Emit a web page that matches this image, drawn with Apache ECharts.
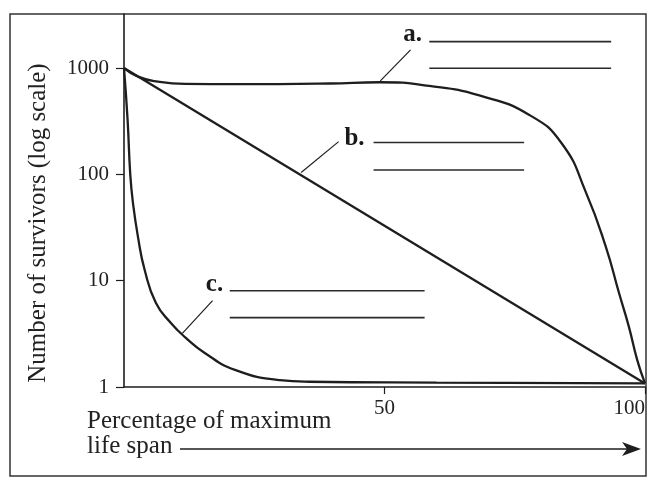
<!DOCTYPE html>
<html>
<head>
<meta charset="utf-8">
<script src="https://cdn.jsdelivr.net/npm/echarts@6/dist/echarts.min.js"></script>
<style>
  html, body { margin: 0; padding: 0; background: #fff; }
  #chart { width: 648px; height: 477px; }
</style>
</head>
<body>
<div id="chart"></div>
<script>
// Survivorship curves: percentage of maximum life span vs. number of survivors (log scale)

// Curve a: high survival until late in life
const spanA = [0, 2.7, 6.5, 11.7, 21.8, 39.5, 49, 58.6, 68.2, 77.8, 84.1, 88.7, 92.5, 95, 96.9, 98.5, 100];
const survA = [1000, 830, 745, 708, 704, 715, 735, 679, 552, 362, 193, 67, 20.7, 7.7, 3.7, 1.8, 1.08];

// Curve b: constant death rate (straight line on a log scale)
const spanB = [0, 100];
const survB = [1000, 1.08];

// Curve c: heavy early mortality
const spanC = [0, 0.69, 1.2, 1.72, 2.68, 3.97, 6.13, 9, 11.7, 15.5, 21.3, 29.9, 35.6, 60, 100];
const survC = [1000, 325, 100, 53.8, 25.8, 12.6, 6.17, 4.0, 2.95, 2.09, 1.45, 1.16, 1.12, 1.1, 1.08];

// Axis tick values
const yTicks = [1, 10, 100, 1000];
const xTicks = [50, 100];

// Callout tags and where their pointers / answer rules sit (data coordinates)
const calloutTags = ['a.', 'b.', 'c.'];
const pointerFrom = [[49.2, 756], [34.0, 104], [11.2, 3.2]];
const pointerTo   = [[55.0, 1480], [41.2, 203], [17.0, 6.5]];
const tagAt       = [[53.6, 1720], [42.3, 181], [15.7, 7.66]];
const ruleSpan    = [[58.6, 93.5], [47.9, 76.8], [20.3, 57.7]];
const ruleLevels  = [[1770, 996], [199, 110], [8.05, 4.49]];

const SERIF = '"Liberation Serif", "Times New Roman", serif';
const INK = '#1e1e1e';

const zip = (xs, ys) => xs.map((x, i) => [x, ys[i]]);

const chart = echarts.init(document.getElementById('chart'), null, { renderer: 'canvas' });

const curveStyle = { color: INK, width: 2.3 };

chart.setOption({
  animation: false,
  backgroundColor: '#fff',
  grid: { left: 124, right: 2, top: 14, bottom: 90, containLabel: false },
  xAxis: {
    type: 'value', min: 0, max: 100,
    axisLine: { show: true, onZero: false, lineStyle: { color: INK, width: 1.6 } },
    axisTick: { show: true, inside: false, length: 7, customValues: xTicks, lineStyle: { color: INK, width: 1.2 } },
    axisLabel: { customValues: xTicks, alignMaxLabel: 'right', margin: 11, color: '#222', fontFamily: SERIF, fontSize: 21, formatter: (v) => String(v) },
    splitLine: { show: false }
  },
  yAxis: {
    type: 'log', logBase: 10, min: 1, max: 3221,
    axisLine: { show: true, lineStyle: { color: INK, width: 1.6 } },
    axisTick: { show: true, inside: false, length: 8, customValues: yTicks, lineStyle: { color: INK, width: 1.2 } },
    axisLabel: { customValues: yTicks, margin: 15, color: '#222', fontFamily: SERIF, fontSize: 21, formatter: (v) => String(Math.round(v)) },
    splitLine: { show: false }
  },
  series: [
    { name: 'a', type: 'line', data: zip(spanA, survA), showSymbol: false, smooth: 0.5, lineStyle: curveStyle },
    { name: 'b', type: 'line', data: zip(spanB, survB), showSymbol: false, lineStyle: curveStyle },
    { name: 'c', type: 'line', data: zip(spanC, survC), showSymbol: false, smooth: 0.5, lineStyle: curveStyle }
  ]
});

// Decorations: outer frame, axis titles, arrow and the labelled callouts
const px = (pt) => chart.convertToPixel({ gridIndex: 0 }, pt);
const thin = { stroke: INK, lineWidth: 1.2 };
const rule = { stroke: '#2a2a2a', lineWidth: 1.6 };
const elements = [];

elements.push({ type: 'rect', shape: { x: 10, y: 14, width: 636, height: 462 }, style: { fill: 'none', stroke: '#333', lineWidth: 1.5 }, silent: true });

elements.push({
  type: 'text', x: 38, y: 223, rotation: Math.PI / 2,
  style: { text: 'Number of survivors (log scale)', font: '25px ' + SERIF, fill: '#222', align: 'center', verticalAlign: 'middle' }
});
elements.push({ type: 'text', x: 87, y: 421, style: { text: 'Percentage of maximum', font: '25px ' + SERIF, fill: '#222', align: 'left', verticalAlign: 'middle' } });
elements.push({ type: 'text', x: 87, y: 446, style: { text: 'life span', font: '25px ' + SERIF, fill: '#222', align: 'left', verticalAlign: 'middle' } });
elements.push({ type: 'line', shape: { x1: 180, y1: 449, x2: 628, y2: 449 }, style: { stroke: INK, lineWidth: 1.4 } });
elements.push({ type: 'polygon', shape: { points: [[622, 442], [641, 449], [622, 456], [627, 449]] }, style: { fill: INK } });

calloutTags.forEach((tag, i) => {
  const p0 = px(pointerFrom[i]);
  const p1 = px(pointerTo[i]);
  elements.push({ type: 'line', shape: { x1: p0[0], y1: p0[1], x2: p1[0], y2: p1[1] }, style: thin });
  const t = px(tagAt[i]);
  elements.push({ type: 'text', x: t[0], y: t[1] - 8, style: { text: tag, font: 'bold 25px ' + SERIF, fill: '#1a1a1a', align: 'left', verticalAlign: 'middle' } });
  ruleLevels[i].forEach((lv) => {
    const r0 = px([ruleSpan[i][0], lv]);
    const r1 = px([ruleSpan[i][1], lv]);
    elements.push({ type: 'line', shape: { x1: r0[0], y1: r0[1], x2: r1[0], y2: r1[1] }, style: rule });
  });
});

chart.setOption({ graphic: { elements } });
</script>
</body>
</html>
